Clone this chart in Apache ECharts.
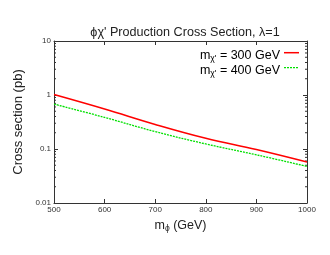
<!DOCTYPE html>
<html><head><meta charset="utf-8">
<script src="https://cdn.jsdelivr.net/npm/echarts@6/dist/echarts.min.js"></script>
<style>html,body{margin:0;padding:0;background:#fff}#c{width:330px;height:255px}</style>
</head><body><div id="c"></div>
<script>
const masses = [500, 600, 700, 800, 900, 1000];
const sigma300 = [1.02, 0.55, 0.285, 0.158, 0.098, 0.0575];
const sigma400 = [0.68, 0.385, 0.21, 0.124, 0.078, 0.0476];
const xTicks = [500, 600, 700, 800, 900, 1000];
const yTickLabels = ['0.01', '0.1', '1', '10'];
const legendMasses = ['300', '400'];
const minorTickVals = [];
[0.01, 0.1, 1].forEach(d => { for (let k = 2; k <= 9; k++) minorTickVals.push(+(d * k).toPrecision(3)); });

const font = 'Liberation Sans, Arial, sans-serif';
const RED = '#ff0000', GREEN = '#00e000';
const chart = echarts.init(document.getElementById('c'), null, {renderer: 'canvas'});
const axisLine = {show: true, lineStyle: {color: '#333', width: 1}};
const rich = {
  m: {fontSize: 12.5, fontFamily: font, color: '#222'},
  s: {fontSize: 8.5, fontFamily: font, color: '#222', padding: [7, 0, 0, 0]},
  t: {fontSize: 12.5, fontFamily: font, color: '#222'}
};
const legendGraphics = [];
legendMasses.forEach((n, i) => {
  const y = 52.7 + i * 15;
  legendGraphics.push({
    type: 'text', x: 280, y: y + 2.5, silent: true,
    style: {text: '{m|m}{s|χ\'}{t| = ' + n + ' GeV}', rich: rich, align: 'right', verticalAlign: 'middle'}
  });
  legendGraphics.push({
    type: 'line', silent: true,
    shape: {x1: 284, y1: y, x2: 299, y2: y},
    style: i === 0 ? {stroke: RED, lineWidth: 1.5} : {stroke: GREEN, lineWidth: 1.3, lineDash: [2, 1]}
  });
});
chart.setOption({
  animation: false,
  title: {
    text: 'ϕχ\' Production Cross Section, λ=1',
    left: 180, textAlign: 'center', top: 21,
    textStyle: {fontSize: 12.6, fontWeight: 'normal', fontFamily: font, color: '#222'}
  },
  graphic: legendGraphics,
  grid: {left: 54, right: 23, top: 41, bottom: 52},
  xAxis: [{
    type: 'value', min: 500, max: 1000, interval: 100,
    axisLine: axisLine,
    axisTick: {inside: true, length: 4, lineStyle: {color: '#333'}},
    splitLine: {show: false},
    axisLabel: {fontSize: 8, fontFamily: font, color: '#333', margin: 3,
      formatter: v => xTicks.indexOf(v) >= 0 ? String(v) : ''},
    name: '{m|m}{s|ϕ}{t| (GeV)}', nameLocation: 'middle', nameGap: 14,
    nameTextStyle: {rich: rich}
  }, {
    type: 'value', min: 500, max: 1000, interval: 100, position: 'top',
    axisLine: axisLine, axisTick: {inside: true, length: 4, lineStyle: {color: '#333'}},
    axisLabel: {show: false}, splitLine: {show: false}
  }],
  yAxis: [{
    type: 'log', min: 0.01, max: 10, logBase: 10,
    axisLine: axisLine,
    axisTick: {inside: true, length: 4, lineStyle: {color: '#333'}},
    splitLine: {show: false},
    axisLabel: {fontSize: 8, fontFamily: font, color: '#333', margin: 3,
      formatter: v => { const s = String(+v.toPrecision(2)); return yTickLabels.indexOf(s) >= 0 ? s : ''; }},
    name: 'Cross section (pb)', nameLocation: 'middle', nameGap: 21,
    nameTextStyle: {fontSize: 13, fontFamily: font, color: '#222'}
  }, {
    type: 'log', min: 0.01, max: 10, logBase: 10, position: 'right',
    axisLine: axisLine, axisTick: {inside: true, length: 4, lineStyle: {color: '#333'}},
    axisLabel: {show: false}, splitLine: {show: false}
  }],
  series: [{
    name: '300', type: 'line', symbol: 'none', smooth: 0.4,
    data: masses.map((m, i) => [m, sigma300[i]]),
    lineStyle: {color: RED, width: 1.5}, itemStyle: {color: RED}
  }, {
    name: '400', type: 'line', symbol: 'none', smooth: 0.4,
    data: masses.map((m, i) => [m, sigma400[i]]),
    lineStyle: {color: GREEN, width: 1.3, type: [2, 1]}, itemStyle: {color: GREEN}
  }, {
    type: 'custom', silent: true,
    data: minorTickVals.map(v => [v]),
    renderItem: (params, api) => {
      const v = api.value(0);
      const pl = api.coord([500, v]);
      const pr = api.coord([1000, v]);
      const st = {stroke: '#333', lineWidth: 1};
      return {type: 'group', children: [
        {type: 'line', shape: {x1: pl[0], y1: pl[1], x2: pl[0] + 2, y2: pl[1]}, style: st},
        {type: 'line', shape: {x1: pr[0], y1: pr[1], x2: pr[0] - 2, y2: pr[1]}, style: st}
      ]};
    }
  }]
});
</script></body></html>
